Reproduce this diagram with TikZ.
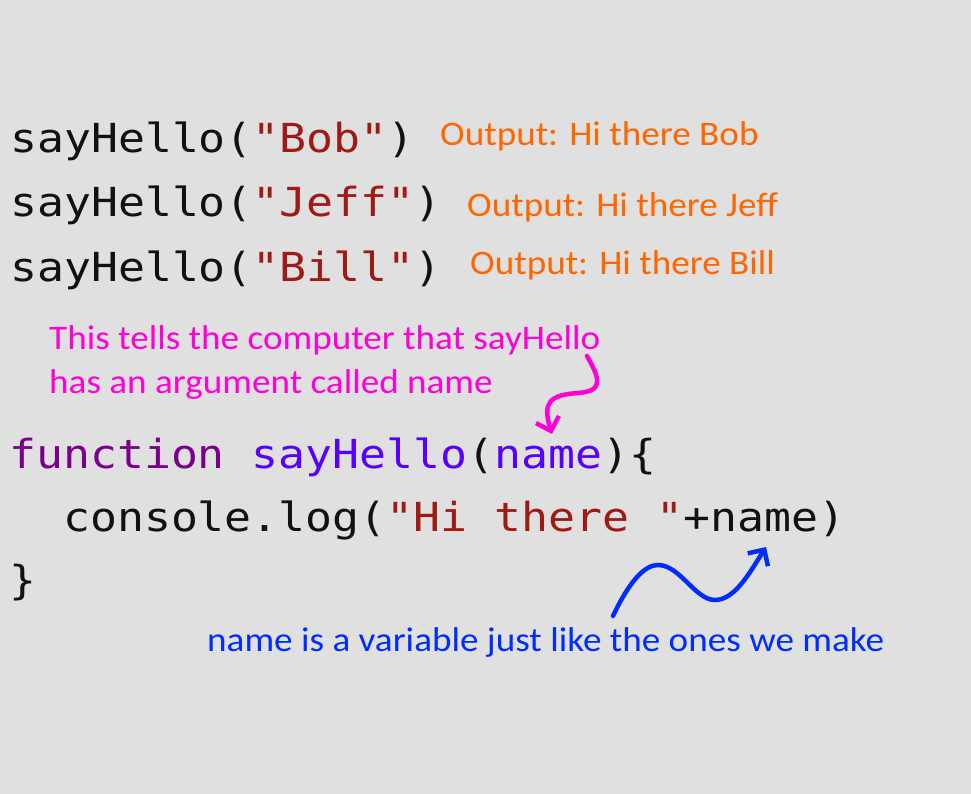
\documentclass[tikz,border=0pt]{standalone}
\usepackage{xcolor}
\usepackage{fontspec}
\setmonofont[FakeStretch=1.12]{DejaVu Sans Mono}
\newfontfamily\notefont[FakeStretch=1.08]{Carlito}
\usetikzlibrary{arrows.meta}

\definecolor{slidegray}{RGB}{224,224,224}
\definecolor{codeink}{RGB}{17,17,17}
\definecolor{codestr}{RGB}{160,26,20}
\definecolor{codekey}{RGB}{122,0,140}
\definecolor{codeid}{RGB}{88,0,255}
\definecolor{outorange}{RGB}{255,102,0}
\definecolor{notepink}{RGB}{255,0,214}
\definecolor{noteblue}{RGB}{0,45,255}

\begin{document}
\begin{tikzpicture}[x=1pt,y=1pt,yscale=-1,xscale=1,
  code/.style={anchor=base west,inner sep=0pt,text=codeink,font=\ttfamily\fontsize{40}{63}\selectfont},
  note/.style={anchor=base west,inner sep=0pt,align=left,font=\notefont\fontsize{34.4}{44}\selectfont},
  swirl/.style={line width=4.5pt,line cap=round,line join=round,-{Straight Barb[length=12pt,width=24pt,line join=miter]}}]
%set diagram: 971 x 794
\fill[slidegray] (0,0) rectangle (971,794);
\useasboundingbox (0,0) rectangle (971,794);

% Text Node
\draw (10,153) node (callbob) [code] {sayHello(\textcolor{codestr}{"Bob"})};
% Text Node
\draw (10,217) node (calljeff) [code] {sayHello(\textcolor{codestr}{"Jeff"})};
% Text Node
\draw (10,281) node (callbill) [code] {sayHello(\textcolor{codestr}{"Bill"})};
% Text Node
\draw (440,146) node (outbob) [note,text=outorange] {Output: Hi there Bob};
% Text Node
\draw (467,217) node (outjeff) [note,text=outorange] {Output: Hi there Jeff};
% Text Node
\draw (470,274) node (outbill) [note,text=outorange] {Output: Hi there Bill};

% Text Node (base = last line)
\draw (49,393) node (argnote) [note,text=notepink] {This tells the computer that sayHello\\has an argument called name};

% Text Node
\draw (9,468) node (fnhead) [code] {\textcolor{codekey}{function} \textcolor{codeid}{sayHello}(\textcolor{codeid}{name})\{};
% Text Node
\draw (9,531) node (fnbody) [code] {\ \ console.log(\textcolor{codestr}{"Hi there "}+name)};
% Text Node
\draw (9,594) node (fnend) [code] {\}};

% Text Node
\draw (207,651) node (varnote) [note,text=noteblue] {name is a variable just like the ones we make};

%Curve Lines
\coordinate (argstart) at (587,356);
\coordinate (argtip) at (552,434);
\draw [swirl,notepink] (argstart) .. controls (600,379) and (604,391) .. (578,393) .. controls (550,395) and (542,402) .. (argtip);
%Curve Lines
\coordinate (varstart) at (613,616);
\coordinate (vartip) at (766,547);
\draw [swirl,noteblue] (varstart) .. controls (630,580) and (645,565) .. (658,565) .. controls (680,565) and (695,600) .. (715,600) .. controls (735,600) and (750,572) .. (vartip);

\end{tikzpicture}
\end{document}
